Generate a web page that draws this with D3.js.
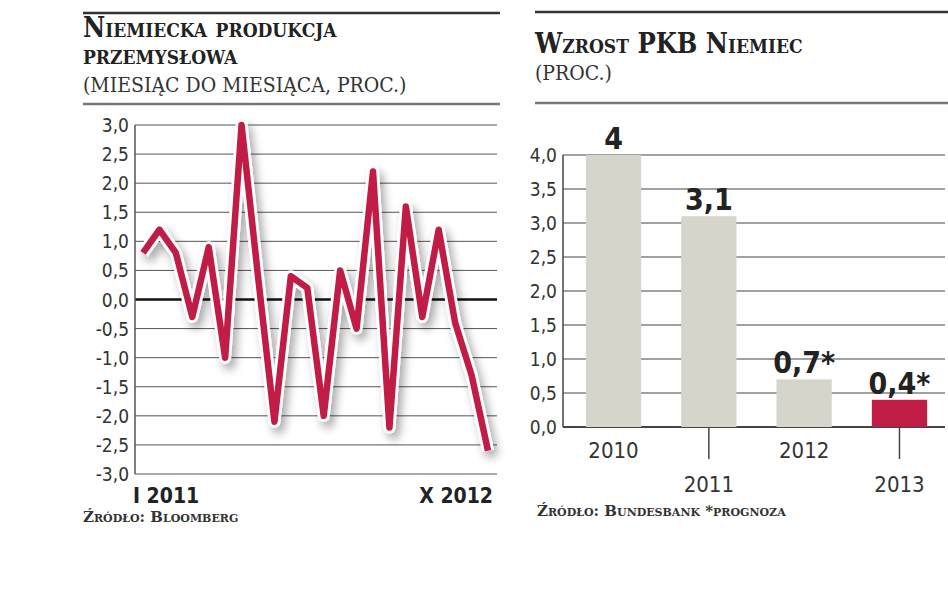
<!DOCTYPE html>
<html><head><meta charset="utf-8">
<script src="https://cdn.jsdelivr.net/npm/d3@7"></script>
<style>body{margin:0;background:#fff}</style>
</head><body>
<svg id="c" width="948" height="593"></svg>
<script>
const months = d3.range(22);
const prodValues = [0.8,1.2,0.8,-0.3,0.9,-1.0,3.0,0.4,-2.1,0.4,0.2,-2.0,0.5,-0.5,2.2,-2.2,1.6,-0.3,1.2,-0.4,-1.3,-2.6];
const prodTicks = [3,2.5,2,1.5,1,0.5,0,-0.5,-1,-1.5,-2,-2.5,-3];
const monthLabels = ["I 2011","X 2012"];
const years = ["2010","2011","2012","2013"];
const gdpValues = [4,3.1,0.7,0.4];
const gdpLabels = ["4","3,1","0,7*","0,4*"];
const gdpTicks = [0,0.5,1,1.5,2,2.5,3,3.5,4];

const svg = d3.select("#c");
const fmt = v => d3.format(".1f")(v).replace(".",",").replace("−","-");
const serif = "'DejaVu Serif', serif";
const serifC = "'DejaVu Serif Condensed', 'DejaVu Serif', serif";
const cond = "'DejaVu Sans Condensed', 'DejaVu Sans', sans-serif";

const defs = svg.append("defs");
const f = defs.append("filter").attr("id","sh").attr("x","-20%").attr("y","-20%").attr("width","140%").attr("height","140%");
f.append("feGaussianBlur").attr("in","SourceAlpha").attr("stdDeviation",5).attr("result","b");
f.append("feOffset").attr("dx",4).attr("dy",6).attr("result","o");
f.append("feComponentTransfer").append("feFuncA").attr("type","linear").attr("slope",0.35);
const m = f.append("feMerge"); m.append("feMergeNode"); m.append("feMergeNode").attr("in","SourceGraphic");

function header(x1,x2,yTop,yBot,lines,sub){
  svg.append("line").attr("x1",x1).attr("x2",x2).attr("y1",yTop).attr("y2",yTop).attr("stroke","#333").attr("stroke-width",2.5);
  svg.append("line").attr("x1",x1).attr("x2",x2).attr("y1",yBot).attr("y2",yBot).attr("stroke","#777").attr("stroke-width",2.5);
  lines.forEach(l=>svg.append("text").attr("x",x1).attr("y",l[1]).text(l[0])
    .attr("font-family",serifC).attr("font-weight","bold").attr("font-size",27).style("font-variant","small-caps").attr("fill","#222"));
  svg.append("text").attr("x",x1).attr("y",sub[1]).text(sub[0]).attr("font-family",serifC).attr("font-size",21).attr("fill","#333");
}
header(83,500,13,104,[["Niemiecka produkcja",37],["przemysłowa",64]],["(MIESIĄC DO MIESIĄCA, PROC.)",92]);
header(535,948,12,103,[["Wzrost PKB Niemiec",53]],["(PROC.)",80]);

const x1 = d3.scaleLinear().domain([0,21]).range([143,488]);
const y1 = d3.scaleLinear().domain([-3,3]).range([474,125]);
const gl = svg.append("g");
prodTicks.forEach(t=>{
  gl.append("line").attr("x1",135).attr("x2",497).attr("y1",y1(t)).attr("y2",y1(t))
    .attr("stroke",t===0?"#111":"#555").attr("stroke-width",t===0?2.5:1);
  gl.append("text").attr("x",129).attr("y",y1(t)+7).attr("text-anchor","end").text(fmt(t))
    .attr("font-family",cond).attr("font-size",19).attr("fill","#333");
});
gl.append("line").attr("x1",135).attr("x2",135).attr("y1",y1(3)).attr("y2",y1(-3)).attr("stroke","#555").attr("stroke-width",1.5);
const line = d3.line().x((d,i)=>x1(months[i])).y(d=>y1(d));
gl.append("path").datum(prodValues).attr("d",line).attr("fill","none").attr("stroke","#fff").attr("stroke-width",12)
  .attr("stroke-linejoin","round").attr("filter","url(#sh)");
gl.append("path").datum(prodValues).attr("d",line).attr("fill","none").attr("stroke","#c01c45").attr("stroke-width",6.5).attr("stroke-linejoin","round");
gl.append("text").attr("x",x1(0)-10).attr("y",503).text(monthLabels[0]).attr("font-family",cond).attr("font-weight","bold").attr("font-size",21).attr("fill","#222");
gl.append("text").attr("x",x1(21)+5).attr("y",503).attr("text-anchor","end").text(monthLabels[1]).attr("font-family",cond).attr("font-weight","bold").attr("font-size",21).attr("fill","#222");
gl.append("text").attr("x",83).attr("y",522).text("Źródło: Bloomberg").attr("font-family",serif).attr("font-weight","bold").attr("font-size",15).style("font-variant","small-caps").attr("fill","#333");

const x2 = d3.scaleBand().domain(years).range([563,950]).paddingInner(0.42).paddingOuter(0.24);
const y2 = d3.scaleLinear().domain([0,4]).range([427,155]);
const gr = svg.append("g");
gdpTicks.forEach(t=>{
  gr.append("line").attr("x1",563).attr("x2",945).attr("y1",y2(t)).attr("y2",y2(t)).attr("stroke","#444").attr("stroke-width",t===0?2:1.2);
  gr.append("text").attr("x",557).attr("y",y2(t)+7).attr("text-anchor","end").text(fmt(t))
    .attr("font-family",cond).attr("font-size",19).attr("fill","#333");
});
gr.append("line").attr("x1",563).attr("x2",563).attr("y1",y2(4)).attr("y2",y2(0)).attr("stroke","#444").attr("stroke-width",1.5);
gr.selectAll("rect").data(gdpValues).join("rect")
  .attr("x",(d,i)=>x2(years[i])).attr("width",x2.bandwidth()).attr("y",d=>y2(d)).attr("height",d=>y2(0)-y2(d))
  .attr("fill",(d,i)=>i===3?"#c01c45":"#d5d5cc");
gdpValues.forEach((d,i)=>{
  const cx = x2(years[i])+x2.bandwidth()/2;
  gr.append("text").attr("x",cx).attr("y",y2(d)-6).attr("text-anchor","middle").text(gdpLabels[i])
    .attr("font-family",cond).attr("font-weight","bold").attr("font-size",30).attr("fill","#222");
  const low = i%2===1;
  if(low) gr.append("line").attr("x1",cx).attr("x2",cx).attr("y1",y2(0)).attr("y2",y2(0)+32).attr("stroke","#444").attr("stroke-width",1.5);
  gr.append("text").attr("x",cx).attr("y",low?492:458).attr("text-anchor","middle").text(years[i])
    .attr("font-family",cond).attr("font-size",22).attr("fill","#333");
});
gr.append("text").attr("x",537).attr("y",516).text("Źródło: Bundesbank *prognoza").attr("font-family",serif).attr("font-weight","bold").attr("font-size",15).style("font-variant","small-caps").attr("fill","#333");
</script>
</body></html>
